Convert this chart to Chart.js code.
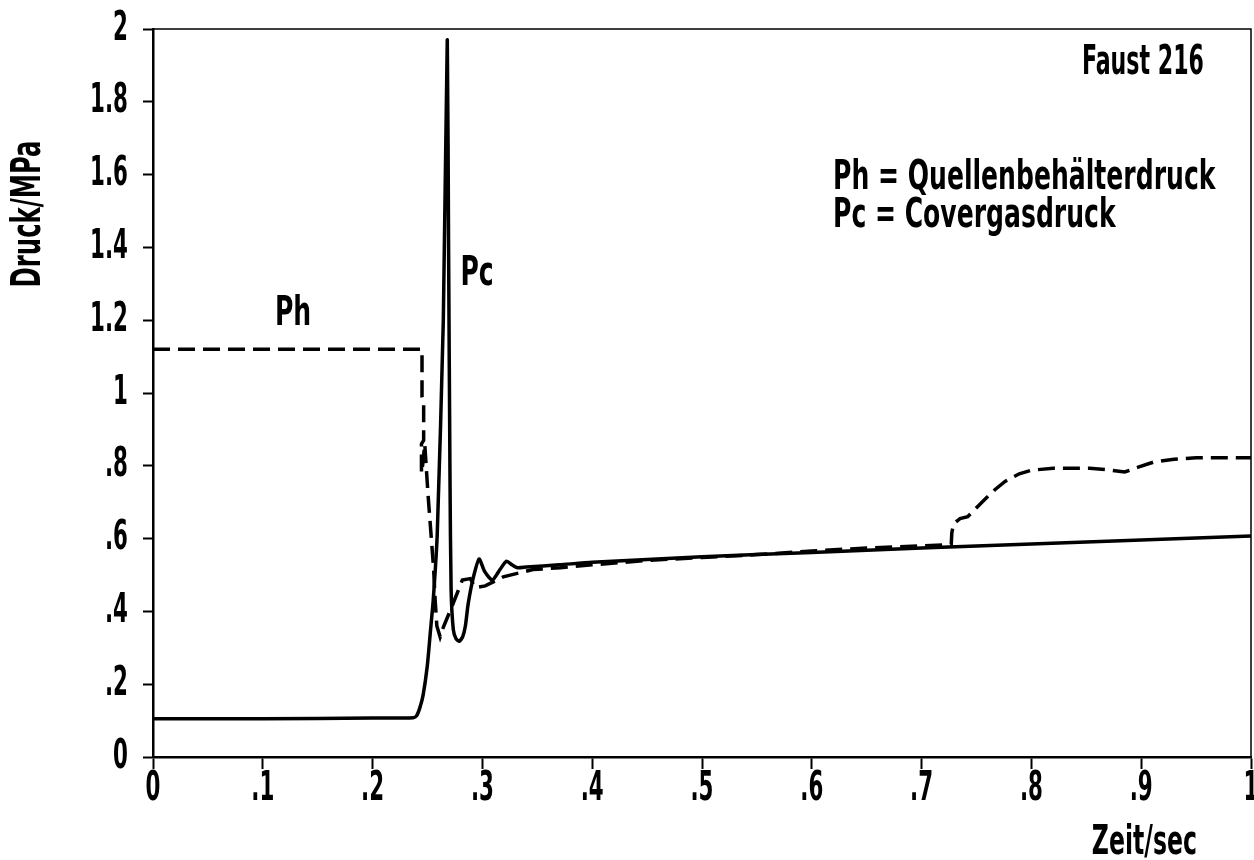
<!DOCTYPE html>
<html>
<head>
<meta charset="utf-8">
<script src="https://cdn.jsdelivr.net/npm/chart.js@4.4.1/dist/chart.umd.min.js"></script>
<style>
  html, body { margin: 0; padding: 0; background: #fff; }
  #wrap { width: 1254px; height: 860px; }
</style>
</head>
<body>
<div id="wrap"><canvas id="chart-faust"></canvas></div>
<script>
const fontFamily = '"DejaVu Sans Condensed", "DejaVu Sans", sans-serif';
const textFont = "bold 41px " + fontFamily;

// Pc = Covergasdruck (solid)
const pcTime = [
  0, 0.1, 0.2, 0.237, 0.240, 0.243, 0.246, 0.2498, 0.2525, 0.2552, 0.2589,
  0.2644, 0.268, 0.2692, 0.2705, 0.2715, 0.2735, 0.276, 0.279, 0.282, 0.2845,
  0.287, 0.2915, 0.297, 0.302, 0.309, 0.316, 0.322, 0.327, 0.332, 0.34, 0.37,
  0.4, 0.5, 0.6, 0.7, 0.8, 0.9, 1.0,
];
const pcPressure = [
  0.105, 0.105, 0.107, 0.108, 0.113, 0.135, 0.17, 0.25, 0.34, 0.43, 0.615,
  1.2, 1.97, 1.4, 0.76, 0.46, 0.35, 0.325, 0.318, 0.33, 0.36,
  0.42, 0.49, 0.544, 0.51, 0.486, 0.515, 0.538, 0.528, 0.52, 0.522, 0.528,
  0.535, 0.55, 0.562, 0.574, 0.585, 0.596, 0.607,
];

// Ph = Quellenbehälterdruck (dashed)
const phTime = [
  0, 0.245, 0.245, 0.2465, 0.2465, 0.2445, 0.2445, 0.2455, 0.2475, 0.2505,
  0.2535, 0.2555, 0.257, 0.2585, 0.2615, 0.2645, 0.2735, 0.2817, 0.289,
  0.2935, 0.3026, 0.319, 0.346, 0.371, 0.4, 0.45, 0.5, 0.55, 0.6, 0.65, 0.7,
  0.727, 0.7275, 0.729, 0.735, 0.742, 0.75, 0.757, 0.767, 0.776, 0.789, 0.8,
  0.82, 0.853, 0.87, 0.885, 0.898, 0.911, 0.93, 0.95, 1.0,
];
const phPressure = [
  1.12, 1.12, 0.99, 0.97, 0.87, 0.86, 0.78, 0.80, 0.86, 0.72,
  0.60, 0.52, 0.43, 0.36, 0.33, 0.357, 0.423, 0.486, 0.49,
  0.465, 0.47, 0.495, 0.515, 0.52, 0.528, 0.54, 0.548, 0.556, 0.566, 0.574, 0.58,
  0.584, 0.615, 0.64, 0.655, 0.66, 0.685, 0.706, 0.735, 0.757, 0.778, 0.788,
  0.793, 0.793, 0.789, 0.783, 0.797, 0.81, 0.818, 0.822, 0.822,
];

const xTicks = [0, 0.1, 0.2, 0.3, 0.4, 0.5, 0.6, 0.7, 0.8, 0.9, 1];
const yTicks = [0, 0.2, 0.4, 0.6, 0.8, 1, 1.2, 1.4, 1.6, 1.8, 2];

function tickLabel(v) {
  const s = String(Math.round(v * 10) / 10);
  return s.startsWith("0.") ? s.slice(1) : s;
}

function toPoints(xs, ys) {
  return xs.map((x, i) => ({ x: x, y: ys[i] }));
}

// the original lettering is a narrow condensed face, so squeeze it horizontally
function drawText(ctx, text, x, y, align, sx, rot) {
  ctx.save();
  ctx.translate(x, y);
  if (rot) ctx.rotate(rot);
  ctx.scale(sx, 1);
  ctx.font = textFont;
  ctx.fillStyle = "#000";
  ctx.textAlign = align;
  ctx.textBaseline = "middle";
  ctx.fillText(text, 0, 0);
  ctx.restore();
}

const annotations = {
  id: "annotations",
  afterDraw(chart) {
    const ctx = chart.ctx;
    const a = chart.chartArea;
    ctx.save();
    ctx.strokeStyle = "#000";
    ctx.lineWidth = 1.5;
    ctx.beginPath();
    ctx.moveTo(a.left, a.top);
    ctx.lineTo(a.right, a.top);
    ctx.lineTo(a.right, a.bottom);
    ctx.stroke();
    ctx.restore();

    // tick labels from the library's own ticks
    const xs = chart.scales.x;
    xs.ticks.forEach((t) => {
      drawText(ctx, tickLabel(t.value), xs.getPixelForValue(t.value), 789, "center", 0.58);
    });
    const ys = chart.scales.y;
    ys.ticks.forEach((t) => {
      drawText(ctx, tickLabel(t.value), 128, ys.getPixelForValue(t.value), "right", 0.58);
    });

    drawText(ctx, "Faust 216", 1204, 63, "right", 0.6);
    drawText(ctx, "Ph = Quellenbehälterdruck", 833, 178, "left", 0.68);
    drawText(ctx, "Pc = Covergasdruck", 833, 216, "left", 0.68);
    drawText(ctx, "Ph", 293, 314, "center", 0.68);
    drawText(ctx, "Pc", 477, 274, "center", 0.68);
    drawText(ctx, "Zeit/sec", 1197, 843, "right", 0.64);
    drawText(ctx, "Druck/MPa", 29, 214, "center", 0.66, -Math.PI / 2);
  },
};

function renderChartFaust() {
  const data = {
    datasets: [
      {
        label: "Pc",
        data: toPoints(pcTime, pcPressure),
        borderColor: "#000",
        borderWidth: 3.5,
        pointRadius: 0,
        showLine: true,
        tension: 0.2,
      },
      {
        label: "Ph",
        data: toPoints(phTime, phPressure),
        borderColor: "#000",
        borderWidth: 3.5,
        borderDash: [17, 8],
        pointRadius: 0,
        showLine: true,
        tension: 0,
      },
    ],
  };

  const config = {
    type: "scatter",
    data: data,
    options: {
      responsive: true,
      maintainAspectRatio: false,
      animation: false,
      layout: { padding: { top: 29, right: 3, left: 0, bottom: 0 } },
      plugins: {
        legend: { display: false },
        tooltip: { enabled: false },
      },
      scales: {
        x: {
          type: "linear",
          min: 0,
          max: 1,
          afterBuildTicks: (scale) => { scale.ticks = xTicks.map((v) => ({ value: v })); },
          afterFit: (scale) => { scale.height = 103; scale.paddingLeft = 0; scale.paddingRight = 0; },
          border: { display: true, color: "#000", width: 2.5 },
          grid: { drawOnChartArea: false, drawTicks: true, tickLength: 12, tickColor: "#000", tickWidth: 2 },
          ticks: { display: false },
        },
        y: {
          type: "linear",
          min: 0,
          max: 2,
          afterBuildTicks: (scale) => { scale.ticks = yTicks.map((v) => ({ value: v })); },
          afterFit: (scale) => { scale.width = 153; scale.paddingTop = 0; scale.paddingBottom = 0; },
          border: { display: true, color: "#000", width: 2.5 },
          grid: { drawOnChartArea: false, drawTicks: true, tickLength: 10, tickColor: "#000", tickWidth: 2 },
          ticks: { display: false },
        },
      },
    },
    plugins: [annotations],
  };

  const myChart = new Chart(document.getElementById("chart-faust"), config);
}

renderChartFaust();
</script>
</body>
</html>
